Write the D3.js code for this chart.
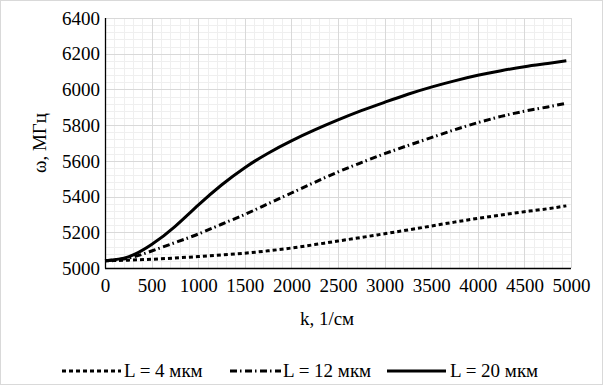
<!DOCTYPE html>
<html>
<head>
<meta charset="utf-8">
<script src="https://cdn.jsdelivr.net/npm/d3@7"></script>
<style>
  html, body { margin: 0; padding: 0; background: #fff; }
  svg { display: block; }
  text { font-family: "Liberation Serif", "Times New Roman", serif; fill: #000; }
</style>
</head>
<body>
<svg id="chart" width="603" height="385"></svg>
<script>
// ---- data ----
const kValues = [0, 250, 500, 750, 1000, 1250, 1500, 1750, 2000, 2250, 2500, 2750, 3000, 3250, 3500, 3750, 4000, 4250, 4500, 4750, 4950];
const omegaL4 = [5040, 5044, 5049, 5056, 5064, 5073, 5083, 5096, 5112, 5131, 5151, 5171, 5192, 5213, 5235, 5257, 5278, 5297, 5315, 5332, 5348];
const omegaL12 = [5040, 5055, 5095, 5142, 5190, 5245, 5300, 5360, 5420, 5480, 5538, 5590, 5640, 5686, 5730, 5774, 5814, 5849, 5878, 5902, 5923];
const omegaL20 = [5040, 5062, 5131, 5232, 5352, 5465, 5562, 5643, 5712, 5773, 5829, 5881, 5928, 5973, 6013, 6048, 6079, 6105, 6127, 6145, 6160];
const seriesNames = ["L = 4 мкм", "L = 12 мкм", "L = 20 мкм"];
const xTicks = [0, 500, 1000, 1500, 2000, 2500, 3000, 3500, 4000, 4500, 5000];
const yTicks = [5000, 5200, 5400, 5600, 5800, 6000, 6200, 6400];
const xTitle = "k, 1/см";
const yTitle = "ω, МГц";

const svg = d3.select("#chart");
const W = 603, H = 385;
const plot = { left: 105, right: 571, top: 18, bottom: 268 };

// outer border
svg.append("rect").attr("x", 0.5).attr("y", 0.5).attr("width", W - 1).attr("height", H - 1)
  .attr("fill", "#fff").attr("stroke", "#d9d9d9").attr("stroke-width", 1);

const x = d3.scaleLinear().domain([0, 5000]).range([plot.left, plot.right]);
const y = d3.scaleLinear().domain([5000, 6400]).range([plot.bottom, plot.top]);

// minor grid
const xMinor = d3.range(0, 5001, 100);
const yMinor = d3.range(5000, 6401, 40);
const g = svg.append("g");
g.selectAll("line.xminor").data(xMinor).enter().append("line")
  .attr("x1", d => Math.round(x(d)) + 0.5).attr("x2", d => Math.round(x(d)) + 0.5)
  .attr("y1", plot.top).attr("y2", plot.bottom)
  .attr("stroke", "#efefef").attr("stroke-width", 1);
g.selectAll("line.yminor").data(yMinor).enter().append("line")
  .attr("y1", d => Math.round(y(d)) + 0.5).attr("y2", d => Math.round(y(d)) + 0.5)
  .attr("x1", plot.left).attr("x2", plot.right)
  .attr("stroke", "#efefef").attr("stroke-width", 1);
// major grid
g.selectAll("line.xmajor").data(xTicks).enter().append("line")
  .attr("x1", d => Math.round(x(d)) + 0.5).attr("x2", d => Math.round(x(d)) + 0.5)
  .attr("y1", plot.top).attr("y2", plot.bottom)
  .attr("stroke", "#d9d9d9").attr("stroke-width", 1);
g.selectAll("line.ymajor").data(yTicks).enter().append("line")
  .attr("y1", d => Math.round(y(d)) + 0.5).attr("y2", d => Math.round(y(d)) + 0.5)
  .attr("x1", plot.left).attr("x2", plot.right)
  .attr("stroke", "#d9d9d9").attr("stroke-width", 1);

// axes
const xAxis = d3.axisBottom(x).tickValues(xTicks).tickSize(0).tickPadding(0).tickFormat(d3.format("d"));
const yAxis = d3.axisLeft(y).tickValues(yTicks).tickSize(0).tickPadding(0).tickFormat(d3.format("d"));
const gx = svg.append("g").attr("transform", `translate(0,${plot.bottom})`).call(xAxis);
gx.select(".domain").remove();
gx.selectAll("text").attr("font-size", 19).attr("font-family", "Liberation Serif").attr("dy", null).attr("y", 24);
const gy = svg.append("g").attr("transform", `translate(${plot.left - 5},0)`).call(yAxis);
gy.select(".domain").remove();
gy.selectAll("text").attr("font-size", 19).attr("font-family", "Liberation Serif").attr("dy", "0.33em").attr("x", 0);

svg.append("line").attr("x1", plot.left + 0.5).attr("x2", plot.left + 0.5)
  .attr("y1", plot.top).attr("y2", plot.bottom + 0.5).attr("stroke", "#000").attr("stroke-width", 1.3);
svg.append("line").attr("x1", plot.left).attr("x2", plot.right)
  .attr("y1", plot.bottom + 0.5).attr("y2", plot.bottom + 0.5).attr("stroke", "#000").attr("stroke-width", 1.3);

// titles
svg.append("text").attr("x", 327).attr("y", 325).attr("text-anchor", "middle")
  .attr("font-size", 19).text(xTitle);
svg.append("text").attr("transform", `translate(40,${(plot.top + plot.bottom) / 2}) rotate(-90)`)
  .attr("text-anchor", "middle").attr("dy", "0.33em").attr("font-size", 19).text(yTitle);

// series
const styles = [
  { dash: "4,3", width: 3 },
  { dash: "7,3,1.5,3.5", width: 3 },
  { dash: null, width: 3 }
];
const seriesData = [omegaL4, omegaL12, omegaL20];
const line = d3.line().x(d => x(d[0])).y(d => y(d[1])).curve(d3.curveNatural);
seriesData.forEach((vals, i) => {
  const pts = kValues.map((k, j) => [k, vals[j]]);
  svg.append("path").datum(pts).attr("d", line)
    .attr("fill", "none").attr("stroke", "#000")
    .attr("stroke-width", styles[i].width)
    .attr("stroke-dasharray", styles[i].dash)
    .attr("stroke-linecap", "butt").attr("stroke-linejoin", "round");
});

// legend
const legendY = 371;
const legendItems = [
  { x1: 62, x2: 121, tx: 124 },
  { x1: 230, x2: 281, tx: 283 },
  { x1: 387, x2: 446, tx: 450 }
];
legendItems.forEach((it, i) => {
  svg.append("line").attr("x1", it.x1).attr("x2", it.x2).attr("y1", legendY).attr("y2", legendY)
    .attr("stroke", "#000").attr("stroke-width", styles[i].width)
    .attr("stroke-dasharray", styles[i].dash);
  svg.append("text").attr("x", it.tx).attr("y", legendY).attr("dy", "0.33em")
    .attr("font-size", 19).text(seriesNames[i]);
});
</script>
</body>
</html>
